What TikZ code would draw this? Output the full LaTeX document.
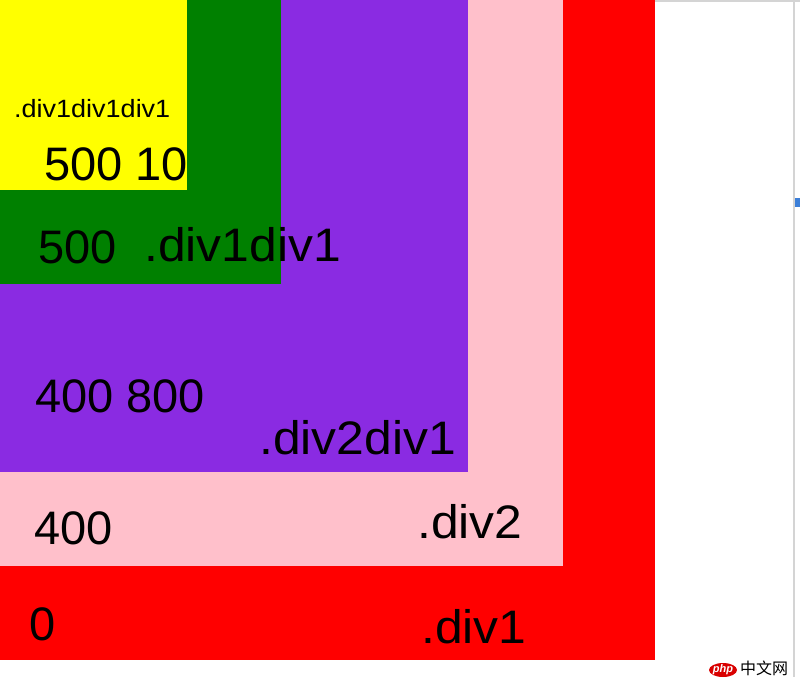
\documentclass[tikz,border=0pt]{standalone}
\usepackage{fontspec}
\setmainfont{Liberation Sans}
\newfontfamily\widefont[FakeStretch=1.06]{Liberation Sans}
\newfontfamily\smallwidefont[FakeStretch=1.08]{Liberation Sans}
\newfontfamily\cjk{Noto Sans CJK SC}
\definecolor{divred}{HTML}{FF0000}
\definecolor{divpink}{HTML}{FFC0CB}
\definecolor{divviolet}{HTML}{8A2BE2}
\definecolor{divgreen}{HTML}{008000}
\definecolor{divyellow}{HTML}{FFFF00}
\definecolor{framegray}{HTML}{D4D4D4}
\definecolor{markblue}{HTML}{3C7FD8}

\begin{document}
\begin{tikzpicture}[x=1pt, y=-1pt,
    lbl/.style={inner sep=0pt, anchor=base west, font=\fontsize{47}{56}\selectfont},
    div lbl/.style={lbl, font=\widefont\fontsize{47}{56}\selectfont},
    small lbl/.style={lbl, font=\smallwidefont\fontsize{25}{30}\selectfont}]
\useasboundingbox (0,0) rectangle (800,677);
\fill[white] (0,0) rectangle (800,677);

% browser frame
\fill[framegray] (655,0) rectangle (800,2);
\draw[framegray, line width=1.5pt] (794,0) -- (794,677);
\fill[markblue] (795,198) rectangle (800,207);

% nested boxes
\foreach \col/\w/\h in {divred/655/660, divpink/563/566, divviolet/468/472,
    divgreen/281/284, divyellow/187/190}
    \fill[\col] (0,0) rectangle (\w,\h);

\node[small lbl] (t5) at (14,117) {.div1div1div1};
\node[lbl] (n5) at (44,180) {500 10};
\node[lbl] (n4) at (38,263) {500};
\node[div lbl] (t4) at (144,261) {.div1div1};
\node[lbl] (n3) at (35,412) {400 800};
\node[div lbl] (t3) at (259,454) {.div2div1};
\node[lbl] (n2) at (34,544) {400};
\node[div lbl] (t2) at (417,538) {.div2};
\node[lbl] (n1) at (29,640) {0};
\node[div lbl] (t1) at (421,643) {.div1};

% watermark
\fill[divred!85!black] (723,670) ellipse [x radius=14, y radius=7];
\node[inner sep=0pt, white, font=\bfseries\itshape\fontsize{11}{13}\selectfont] (wphp) at (723,670) {php};
\node[inner sep=0pt, anchor=south west, font=\cjk\fontsize{16}{18}\selectfont] (wcn) at (740,676) {中文网};
\end{tikzpicture}
\end{document}
